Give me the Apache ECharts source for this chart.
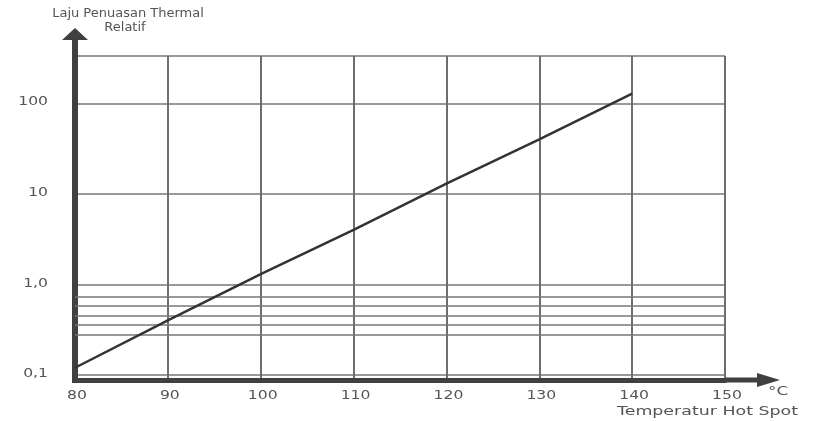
<!DOCTYPE html>
<html>
<head>
<meta charset="utf-8">
<script src="https://cdn.jsdelivr.net/npm/echarts@6/dist/echarts.min.js"></script>
<style>html,body{margin:0;padding:0;background:#fff}#c{width:824px;height:421px}</style>
</head>
<body>
<div id="c"></div>
<script>
// Temperature (°C) on the x axis
const temps = [80, 90, 100, 110, 120, 130, 140];
// Relative thermal ageing rate
const agingRate = [0.12, 0.4, 1.3, 4, 13, 40, 128];
// Extra horizontal guide lines drawn between 0,1 and 1,0
const guideLines = [0.73, 0.58, 0.45, 0.36, 0.28];
// Tick labels on the y axis
const yTickValues = [0.1, 1, 10, 100];
const yTickLabels = ['0,1', '1,0', '10', '100'];
// Tick labels on the x axis
const xTicks = [80, 90, 100, 110, 120, 130, 140, 150];

const FONT = '12px "DejaVu Sans"';
const TXT = '#555';
const GRID = '#777';
const AXIS = '#404040';
const STRETCH = 1.3;

const yMin = 0.0879, yMax = 333;

const chart = echarts.init(document.getElementById('c'), null, {renderer: 'canvas'});
chart.setOption({
  animation: false,
  backgroundColor: '#fff',
  grid: {left: 75, right: 99, top: 56, bottom: 41, containLabel: false},
  xAxis: {
    type: 'value', min: xTicks[0], max: xTicks[xTicks.length - 1], interval: 10,
    axisLine: {onZero: false, lineStyle: {color: AXIS, width: 5},
      symbol: ['none', 'path://M7,0L14,23L9.5,23L9.5,55L4.5,55L4.5,23L0,23Z'],
      symbolSize: [14, 55], symbolOffset: [0, 27.5]},
    axisTick: {show: false},
    axisLabel: {show: false},
    splitLine: {show: true, lineStyle: {color: '#6e6e6e', width: 2}}
  },
  yAxis: {
    type: 'log', logBase: 10, min: yMin, max: yMax,
    axisLine: {show: true, lineStyle: {color: AXIS, width: 6, cap: 'square'},
      symbol: ['none', 'path://M13,0L26,12L16,12L16,28L10,28L10,12L0,12Z'],
      symbolSize: [26, 28], symbolOffset: [0, 14]},
    axisTick: {show: false},
    axisLabel: {show: false},
    splitLine: {show: true, lineStyle: {color: GRID, width: 1.5}}
  },
  series: [{
    type: 'line',
    data: temps.map((t, i) => [t, agingRate[i]]),
    showSymbol: false,
    lineStyle: {color: '#333', width: 2.5},
    z: 5,
    markLine: {
      silent: true, symbol: 'none', label: {show: false},
      lineStyle: {color: GRID, width: 1.5, type: 'solid'},
      data: guideLines.map(v => ({yAxis: v}))
    }
  }]
});

function txt(text, x, y, align, sx, font) {
  return {type: 'text', x: x, y: y, scaleX: sx, silent: true,
    style: {text: text, fill: TXT, font: font || FONT, align: align, verticalAlign: 'middle',
      textAlign: align, textVerticalAlign: 'middle'}};
}
const axisX = chart.convertToPixel({xAxisIndex: 0}, xTicks[0]);
const axisY = chart.convertToPixel({yAxisIndex: 0}, yMin);
const g = [];
xTicks.forEach(v => g.push(txt(String(v), chart.convertToPixel({xAxisIndex: 0}, v) + 2, axisY + 16, 'center', STRETCH)));
yTickValues.forEach((v, i) => g.push(txt(yTickLabels[i], axisX - 27, chart.convertToPixel({yAxisIndex: 0}, v) - 1, 'right', STRETCH)));
g.push(txt('Laju Penuasan Thermal', 128, 14, 'center', 1, '13px "DejaVu Sans"'));
g.push(txt('Relatif', 125, 28, 'center', 1, '13px "DejaVu Sans"'));
g.push(txt('°C', 768, 392, 'left', 1.4));
g.push(txt('Temperatur Hot Spot', 617, 412, 'left', 1.45));
chart.setOption({graphic: g});
</script>
</body>
</html>
